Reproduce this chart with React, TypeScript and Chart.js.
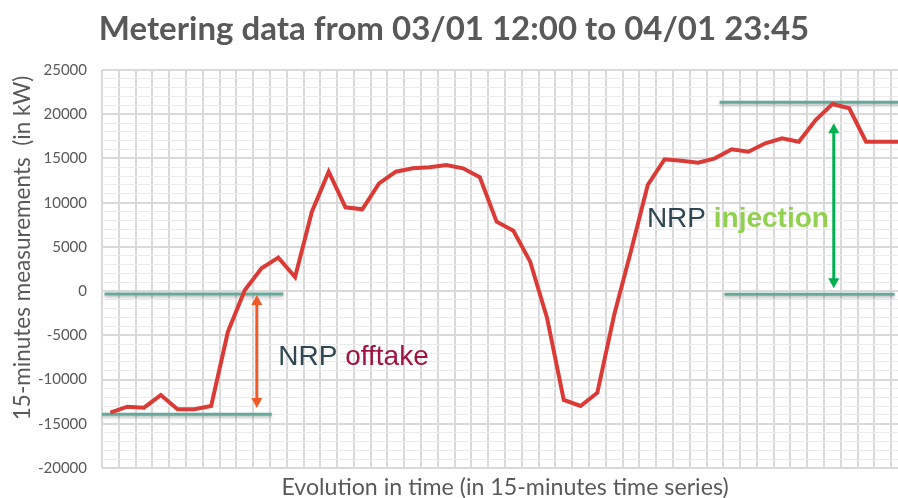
import { useEffect, useRef } from 'react';
import { Chart, registerables } from 'chart.js';

Chart.register(...registerables);

const TITLE = 'Metering data from 03/01 12:00 to 04/01 23:45';
const Y_TITLE = '15-minutes measurements  (in kW)';
const X_TITLE = 'Evolution in time (in 15-minutes time series)';

const periods = [
  '1', '2', '3', '4', '5', '6', '7', '8', '9', '10', '11', '12',
  '13', '14', '15', '16', '17', '18', '19', '20', '21', '22', '23', '24',
  '25', '26', '27', '28', '29', '30', '31', '32', '33', '34', '35', '36',
  '37', '38', '39', '40', '41', '42', '43', '44', '45', '46', '47', '48',
];

const measurements = [
  -13750, -13070, -13180, -11750, -13360, -13360, -12990, -4590, 100, 2580, 3780, 1600,
  8980, 13500, 9470, 9250, 12190, 13500, 13880, 14000, 14260, 13880, 12870, 7850,
  6830, 3330, -3000, -12310, -12990, -11490, -2700, 4500, 12000, 14900, 14750, 14520,
  15010, 16030, 15760, 16710, 17280, 16890, 19350, 21160, 20670, 16890, 16890, 16890,
];

const Y_MIN = -20000;
const Y_MAX = 25000;
const Y_MINOR_STEP = 1000;
const Y_MAJOR_STEP = 5000;

// reference levels: [fromCategory, toCategory, value]
const offtakeTop = [-0.35, 10.3, -330];
const offtakeBottom = [-0.5, 9.61, -13930];
const injectionTop = [36.28, 47.6, 21350];
const injectionBottom = [36.57, 46.7, -360];
// arrows: [category, fromValue, toValue]
const offtakeArrow = [8.72, -440, -13220];
const injectionArrow = [43.08, 18970, 320];
// labels: [category, value]
const offtakeLabel = [10.0, -8360];
const injectionLabel = [31.95, 7280];

const TEAL = '#66a99b';
const GRID_MAJOR = '#d9d9d9';
const GRID_MINOR = '#ebebeb';
const TEXT_GREY = '#595959';

function arrow(ctx: CanvasRenderingContext2D, x: number, y1: number, y2: number, color: string) {
  const head = 10;
  const half = 5.5;
  ctx.save();
  ctx.strokeStyle = color;
  ctx.fillStyle = color;
  ctx.lineWidth = 3;
  const dir = y2 > y1 ? 1 : -1;
  ctx.beginPath();
  ctx.moveTo(x, y1 + dir * head * 0.8);
  ctx.lineTo(x, y2 - dir * head * 0.8);
  ctx.stroke();
  ctx.beginPath();
  ctx.moveTo(x, y1);
  ctx.lineTo(x - half, y1 + dir * head);
  ctx.lineTo(x + half, y1 + dir * head);
  ctx.closePath();
  ctx.fill();
  ctx.beginPath();
  ctx.moveTo(x, y2);
  ctx.lineTo(x - half, y2 - dir * head);
  ctx.lineTo(x + half, y2 - dir * head);
  ctx.closePath();
  ctx.fill();
  ctx.restore();
}

const decorations = {
  id: 'decorations',
  beforeDatasetsDraw(chart: any) {
    const ctx = chart.ctx as CanvasRenderingContext2D;
    const xs = chart.scales.x;
    const ys = chart.scales.y;
    const unit = xs.getPixelForValue(1) - xs.getPixelForValue(0);
    const xc = (c: number) => xs.getPixelForValue(0) + c * unit;
    ctx.save();
    ctx.strokeStyle = TEAL;
    ctx.lineWidth = 3;
    ctx.shadowColor = 'rgba(0,0,0,0.25)';
    ctx.shadowOffsetY = 2;
    ctx.shadowBlur = 3;
    for (const seg of [offtakeTop, offtakeBottom, injectionTop, injectionBottom]) {
      const y = ys.getPixelForValue(seg[2]);
      ctx.beginPath();
      ctx.moveTo(xc(seg[0]), y);
      ctx.lineTo(xc(seg[1]), y);
      ctx.stroke();
    }
    ctx.restore();
  },
  afterDatasetsDraw(chart: any) {
    const ctx = chart.ctx as CanvasRenderingContext2D;
    const xs = chart.scales.x;
    const ys = chart.scales.y;
    const unit = xs.getPixelForValue(1) - xs.getPixelForValue(0);
    const xc = (c: number) => xs.getPixelForValue(0) + c * unit;
    arrow(ctx, xc(offtakeArrow[0]), ys.getPixelForValue(offtakeArrow[1]), ys.getPixelForValue(offtakeArrow[2]), '#ef5a28');
    arrow(ctx, xc(injectionArrow[0]), ys.getPixelForValue(injectionArrow[1]), ys.getPixelForValue(injectionArrow[2]), '#00b050');

    ctx.save();
    ctx.textBaseline = 'alphabetic';
    ctx.textAlign = 'left';
    // NRP offtake
    let x = xc(offtakeLabel[0]);
    let y = ys.getPixelForValue(offtakeLabel[1]);
    ctx.font = '28px "Liberation Sans", Arial, sans-serif';
    ctx.fillStyle = '#2e4753';
    ctx.fillText('NRP ', x, y);
    x += ctx.measureText('NRP ').width;
    ctx.fillStyle = '#a0143f';
    ctx.fillText('offtake', x, y);
    // NRP injection
    x = xc(injectionLabel[0]);
    y = ys.getPixelForValue(injectionLabel[1]);
    ctx.font = '28px "Liberation Sans", Arial, sans-serif';
    ctx.fillStyle = '#2e4753';
    ctx.fillText('NRP ', x, y);
    x += ctx.measureText('NRP ').width;
    ctx.font = 'bold 28px "Liberation Sans", Arial, sans-serif';
    ctx.fillStyle = '#92d050';
    ctx.fillText('injection', x, y);
    ctx.restore();
  },
  afterDraw(chart: any) {
    const ctx = chart.ctx as CanvasRenderingContext2D;
    const area = chart.chartArea;
    ctx.save();
    ctx.fillStyle = TEXT_GREY;
    ctx.textAlign = 'center';
    ctx.textBaseline = 'alphabetic';
    ctx.font = 'bold 33px Lato, sans-serif';
    ctx.fillText(TITLE, 454, 40);
    ctx.font = '23.2px Lato, sans-serif';
    ctx.fillText(X_TITLE, (area.left + area.right) / 2, 495);
    ctx.translate(30, 248);
    ctx.rotate(-Math.PI / 2);
    ctx.font = '22.5px Lato, sans-serif';
    ctx.fillText(Y_TITLE, 0, 0);
    ctx.restore();
  },
};

export default function App() {
  const ref = useRef<HTMLCanvasElement | null>(null);

  useEffect(() => {
    if (!ref.current) return;
    const chart = new Chart(ref.current, {
      type: 'line',
      data: {
        labels: periods,
        datasets: [
          {
            label: 'Metering',
            data: measurements,
            borderColor: '#db3b36',
            borderWidth: 4,
            pointRadius: 0,
            tension: 0,
            fill: false,
          },
        ],
      },
      options: {
        animation: false,
        responsive: false,
        devicePixelRatio: 1,
        layout: { padding: { top: 70, right: 10, left: 0, bottom: 0 } },
        plugins: {
          legend: { display: false },
          title: { display: false },
          tooltip: { enabled: false },
        },
        scales: {
          x: {
            type: 'category',
            offset: true,
            ticks: { display: false },
            grid: { color: GRID_MAJOR, lineWidth: 2, drawTicks: false, offset: true },
            border: { display: false },
            afterFit: (s: any) => { s.height = 30; },
          },
          y: {
            min: Y_MIN,
            max: Y_MAX,
            ticks: {
              stepSize: Y_MINOR_STEP,
              autoSkip: false,
              padding: 15,
              color: TEXT_GREY,
              font: { family: 'Lato', size: 15 },
              callback: (v: any) => (Number(v) % Y_MAJOR_STEP === 0 ? String(v) : ''),
            },
            grid: {
              drawTicks: false,
              color: (c: any) => (c.tick && c.tick.value % Y_MAJOR_STEP === 0 ? GRID_MAJOR : GRID_MINOR),
              lineWidth: (c: any) => (c.tick && c.tick.value % Y_MAJOR_STEP === 0 ? 2 : 1),
            },
            border: { display: false },
            afterFit: (s: any) => { s.width = 102; },
          },
        },
      },
      plugins: [decorations],
    });
    return () => chart.destroy();
  }, []);

  return (
    <div style={{ position: 'fixed', left: 0, top: 0, width: 898, height: 498, overflow: 'hidden', background: '#fff' }}>
      <canvas ref={ref} width={918} height={498} style={{ display: 'block', width: 918, height: 498 }} />
    </div>
  );
}
